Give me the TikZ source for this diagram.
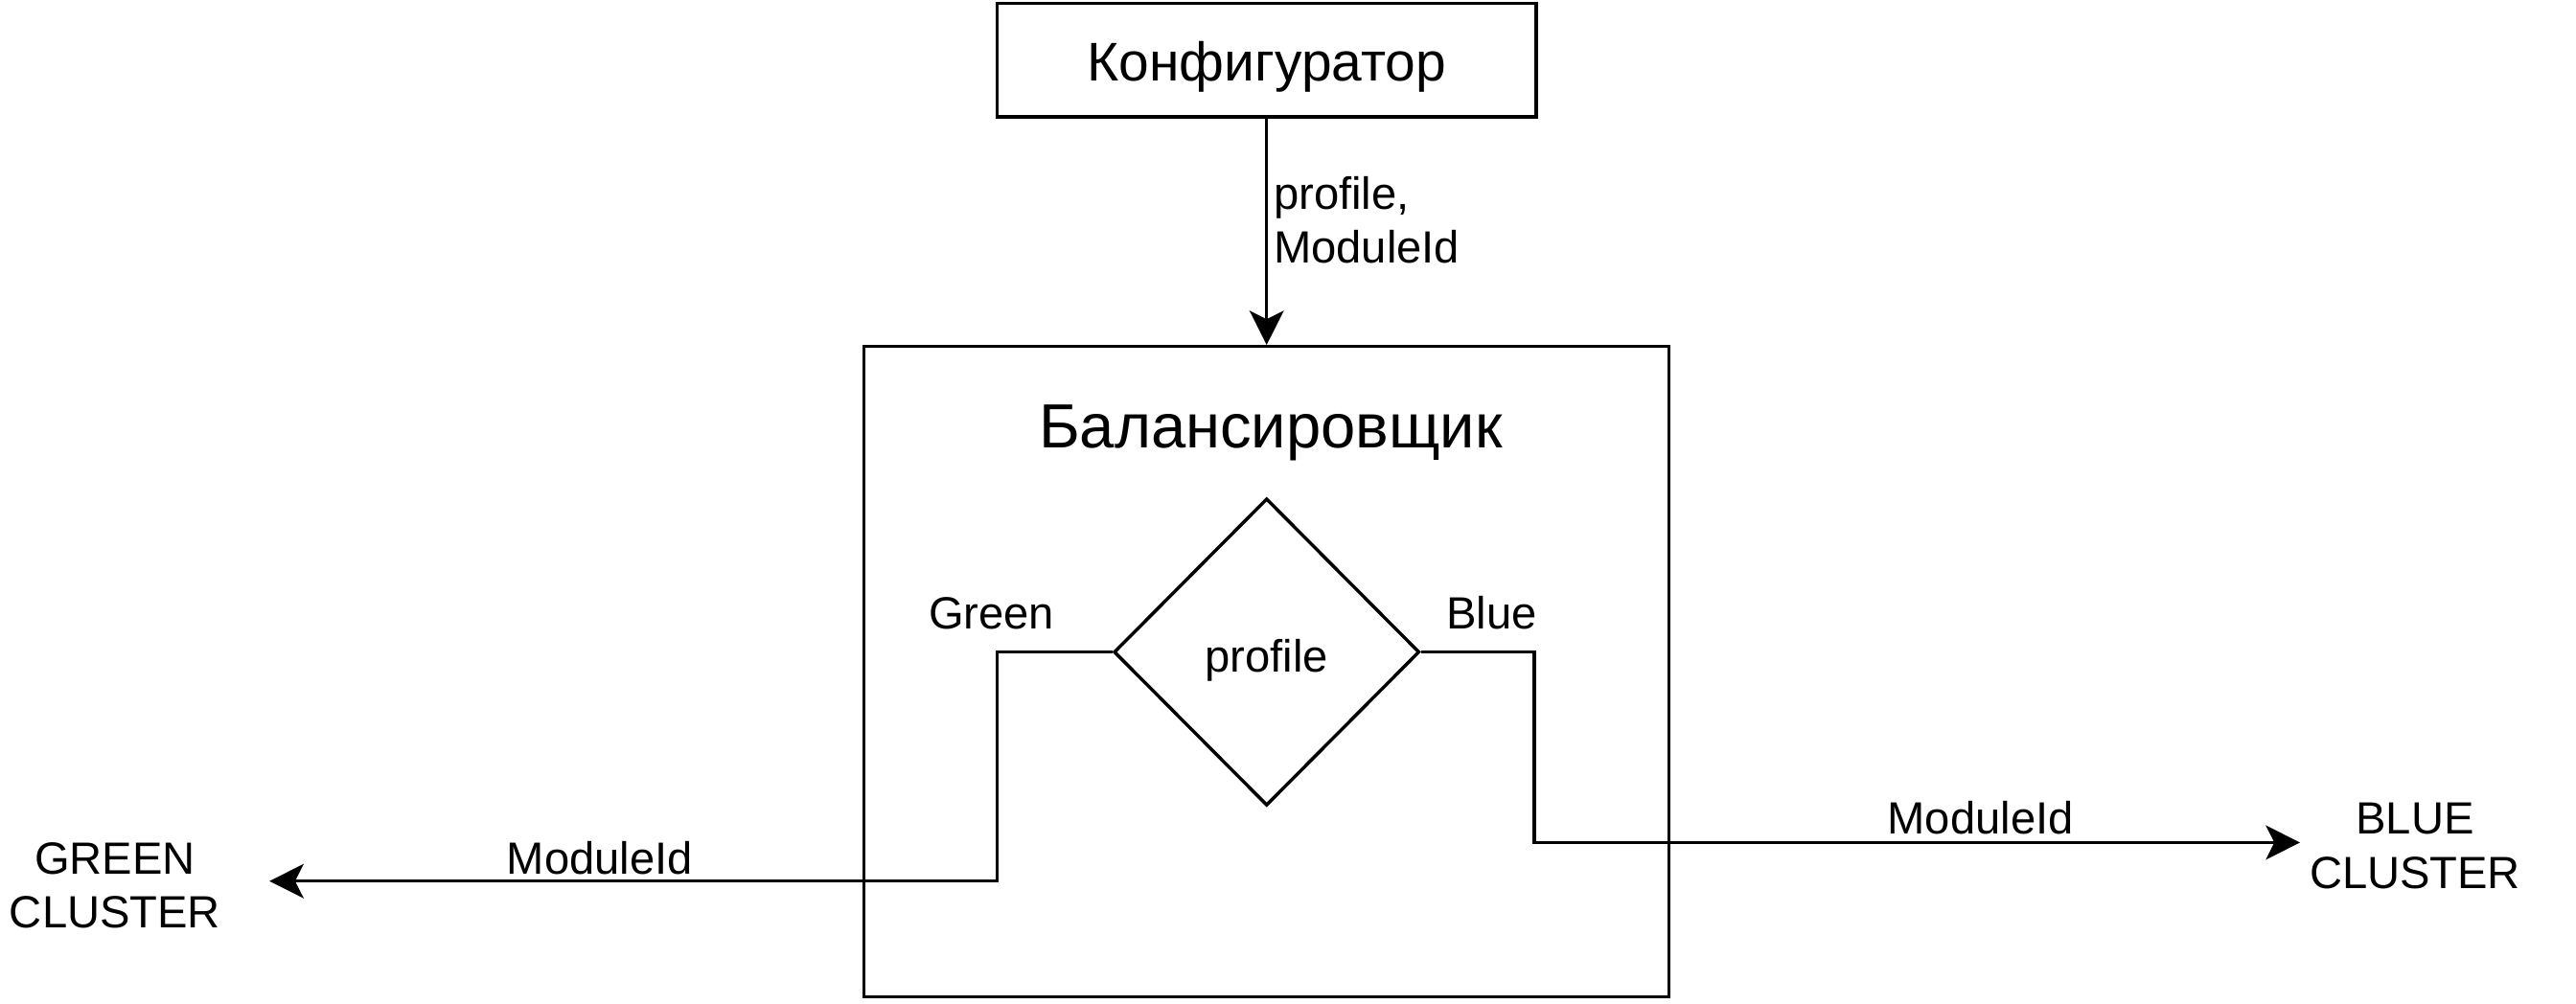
\documentclass[tikz,border=0pt]{standalone}
\usepackage{fontspec}
\setmainfont{Liberation Sans}
\usetikzlibrary{arrows.meta,shapes.geometric}
\tikzset{
  boxline/.style={draw=black, line width=1pt},
  arr/.style={draw=black, line width=1pt, -{Stealth[length=10.4pt,width=10.4pt,inset=2.6pt]}},
  lbl/.style={inner sep=0pt, font=\fontsize{13.75pt}{16.4pt}\selectfont},
}
\begin{document}
\begin{tikzpicture}[x=0.5pt,y=-0.5pt]
\useasboundingbox (0,0) rectangle (1568,611);
% top box
\node[boxline, minimum width=164pt, minimum height=34.5pt, inner sep=0pt,
      text height=12.9pt, text depth=0pt,
      font=\fontsize{16.6pt}{20pt}\selectfont] (conf) at (771,36.6) {Конфигуратор};
% big box
\node[boxline, minimum width=245pt, minimum height=198pt, inner sep=0pt] (bal) at (771,409) {};
\node[inner sep=0pt, anchor=base, font=\fontsize{19pt}{23pt}\selectfont] (baltitle) at (773.5,272.7) {Балансировщик};
% diamond
\node[boxline, diamond, aspect=1, minimum width=93pt, minimum height=93.5pt, inner sep=0pt,
      text height=15pt, text depth=2.9pt,
      font=\fontsize{13.75pt}{16.4pt}\selectfont] (dia) at (771,397) {profile};
% config -> balancer
\draw[arr] (conf.south) -- (bal.north);
\node[lbl, anchor=base west] (plbl) at (775,127.5) {\begin{tabular}[t]{@{}l@{}}profile,\\ModuleId\end{tabular}};
% green branch
\coordinate (gbend) at (607,397);
\coordinate (gend) at (164,536.5);
\draw[arr] (dia.west) -- (gbend) |- (gend);
\node[lbl, anchor=base] (greenlbl) at (603.5,383) {Green};
\node[lbl, anchor=base] (gmod) at (365,532) {ModuleId};
\node[lbl, anchor=base] (gcl) at (70,532) {\begin{tabular}[t]{@{}c@{}}GREEN\\CLUSTER\end{tabular}};
% blue branch
\coordinate (bbend) at (934,397);
\coordinate (bend) at (1400,513);
\draw[arr] (dia.east) -- (bbend) |- (bend);
\node[lbl, anchor=base] (bluelbl) at (908,383) {Blue};
\node[lbl, anchor=base] (bmod) at (1205.5,508) {ModuleId};
\node[lbl, anchor=base] (bcl) at (1470,508) {\begin{tabular}[t]{@{}c@{}}BLUE\\CLUSTER\end{tabular}};
\end{tikzpicture}
\end{document}
